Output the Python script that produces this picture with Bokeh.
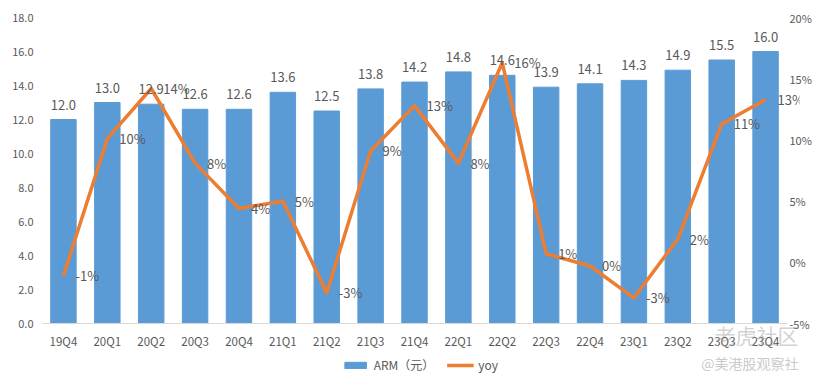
from bokeh.plotting import figure
from bokeh.models import (ColumnDataSource, Range1d, LinearAxis, FixedTicker,
                          NumeralTickFormatter, PrintfTickFormatter, Legend, LegendItem, Label,
                          LabelSet)
from bokeh.embed import file_html
from bokeh.resources import INLINE
from bokeh.core.properties import value

quarters = ["19Q4", "20Q1", "20Q2", "20Q3", "20Q4", "21Q1", "21Q2", "21Q3", "21Q4",
            "22Q1", "22Q2", "22Q3", "22Q4", "23Q1", "23Q2", "23Q3", "23Q4"]
arm = [12.0, 13.0, 12.9, 12.6, 12.6, 13.6, 12.5, 13.8, 14.2,
       14.8, 14.6, 13.9, 14.1, 14.3, 14.9, 15.5, 16.0]
yoy = [-1.1, 10.1, 14.2, 8.1, 4.4, 5.0, -2.5, 9.1, 12.8,
       8.1, 16.3, 0.7, -0.3, -2.9, 1.9, 11.3, 13.3]
yoy_labels = ["-1%", "10%", "14%", "8%", "4%", "5%", "-3%", "9%", "13%",
              "8%", "16%", "1%", "0%", "-3%", "2%", "11%", "13%"]
left_ticks = [0, 2, 4, 6, 8, 10, 12, 14, 16, 18]
right_ticks = [-5, 0, 5, 10, 15, 20]

BLUE = "#5B9BD5"
ORANGE = "#ED7D31"
GRAY = "#595959"
FONT = "Noto Sans CJK SC"

W, H = 814, 373
TOP, LEFT, RIGHT = 17, 41, 14
FH = H - TOP              # frame height (no bottom axis panel)
AXIS_PX = 306             # pixels from top of frame to the zero line
CAT_PX = 747              # pixels covered by the categories
FW = W - LEFT - RIGHT     # frame width
extra_y = (FH - AXIS_PX) / AXIS_PX
n = len(quarters)
extra_x = (FW - CAT_PX) / (CAT_PX / n)

idx = list(range(n))
src = ColumnDataSource(dict(i=idx, q=quarters, arm=arm, yoy=yoy, zero=[0] * n,
                            arm_lbl=[f"{v:.1f}" for v in arm], yoy_lbl=yoy_labels))

p = figure(width=W, height=H, x_range=Range1d(-0.5, n - 0.5 + extra_x),
           y_range=Range1d(-18 * extra_y, 18), x_axis_location=None,
           output_backend="svg", toolbar_location=None,
           min_border_left=LEFT, min_border_right=RIGHT, min_border_top=TOP,
           min_border_bottom=0)
p.outline_line_color = None
p.xgrid.grid_line_color = None
p.ygrid.grid_line_color = None

p.extra_y_ranges = {"pct": Range1d(-5 - 25 * extra_y, 20)}

bars = p.vbar(x="i", top="arm", width=0.58, source=src, color=BLUE)
p.segment(x0=-0.5, x1=n - 0.5, y0=0, y1=0, line_color="#D9D9D9", line_width=1)
line = p.line(x="i", y="yoy", y_range_name="pct", source=src, color=ORANGE, line_width=3.5,
              line_join="round")

p.add_layout(LabelSet(x="i", y="arm", text="arm_lbl", source=src, y_offset=10,
                      text_align="center", text_baseline="bottom", text_font=value(FONT),
                      text_font_size="13px", text_color=GRAY))
p.add_layout(LabelSet(x="i", y="yoy", text="yoy_lbl", source=src, y_range_name="pct",
                      x_offset=12, y_offset=0, text_align="left", text_baseline="middle",
                      text_font=value(FONT), text_font_size="13px", text_color=GRAY))
# category labels under the zero line
p.add_layout(LabelSet(x="i", y="zero", text="q", source=src, y_offset=-17,
                      text_align="center", text_baseline="middle", text_font=value(FONT),
                      text_font_size="11.5px", text_color=GRAY))

# left axis
ya = p.yaxis[0]
ya.ticker = FixedTicker(ticks=left_ticks)
ya.formatter = NumeralTickFormatter(format="0.0")
ya.axis_line_color = None
ya.major_tick_line_color = None
ya.minor_tick_line_color = None
ya.major_tick_out = 0
ya.major_tick_in = 0
ya.major_label_standoff = 8
ya.major_label_text_font = FONT
ya.major_label_text_font_size = "11px"
ya.major_label_text_color = GRAY

# right axis
ra = LinearAxis(y_range_name="pct", ticker=FixedTicker(ticks=right_ticks),
                formatter=PrintfTickFormatter(format="%d%%"))
ra.axis_line_color = None
ra.major_tick_line_color = None
ra.minor_tick_line_color = None
ra.major_tick_out = 0
ra.major_tick_in = 0
ra.major_label_standoff = -10
ra.major_label_text_font = FONT
ra.major_label_text_font_size = "11px"
ra.major_label_text_color = GRAY
p.add_layout(ra, "right")

legend = Legend(items=[LegendItem(label="ARM（元）", renderers=[bars]),
                       LegendItem(label="yoy", renderers=[line])],
                orientation="horizontal", location="bottom", margin=0, padding=0,
                border_line_color=None, background_fill_alpha=0,
                glyph_width=27, glyph_height=8, label_height=12, label_text_font=FONT,
                label_text_font_size="12px", label_text_color=GRAY, spacing=12,
                label_standoff=5)
p.add_layout(legend, "center")

p.add_layout(Label(x=757, y=24, x_units="screen", y_units="screen", text="老虎社区",
                   text_align="right", text_font=FONT, text_font_size="21px",
                   text_color="#9a9a9a", text_alpha=0.45))
p.add_layout(Label(x=757, y=1, x_units="screen", y_units="screen", text="@美港股观察社",
                   text_align="right", text_font=FONT, text_font_size="14px",
                   text_color="#9a9a9a", text_alpha=0.55))

open("out.html", "w").write(file_html(p, INLINE))
